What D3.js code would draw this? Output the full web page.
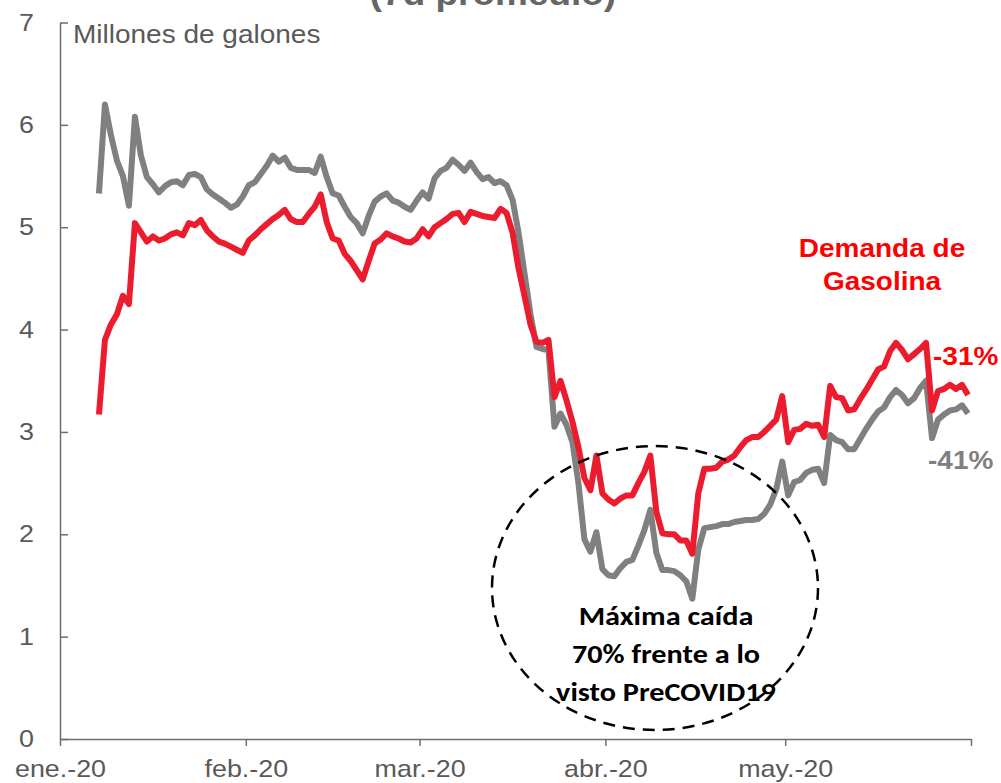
<!DOCTYPE html>
<html>
<head>
<meta charset="utf-8">
<title></title>
<script src="https://d3js.org/d3.v7.min.js"></script>
<style>
  body { margin: 0; background: #fff; }
  .axis text { font-family: "Liberation Sans", Arial, sans-serif; font-size: 24px; fill: #595959; }
  .axis path, .axis line { stroke: #6e6e6e; stroke-width: 1.5; }
</style>
</head>
<body>
<svg width="1001" height="783"></svg>
<script>
// daily values, 7 Jan 2020 - 31 May 2020 (millones de galones, 7d promedio)
var startDate = new Date(2020, 0, 7);
var gasolina = [
  3.17, 3.90, 4.05, 4.15, 4.33, 4.25, 5.04, 4.95, 4.86, 4.91,
  4.87, 4.89, 4.93, 4.95, 4.92, 5.04, 5.02, 5.07, 4.97, 4.91,
  4.86, 4.84, 4.81, 4.78, 4.75, 4.87, 4.92, 4.98, 5.03, 5.08,
  5.12, 5.17, 5.08, 5.05, 5.05, 5.13, 5.20, 5.32, 5.05, 4.89,
  4.87, 4.74, 4.67, 4.58, 4.49, 4.67, 4.84, 4.88, 4.94, 4.91,
  4.89, 4.86, 4.85, 4.89, 4.98, 4.91, 5.00, 5.04, 5.08, 5.13,
  5.14, 5.05, 5.15, 5.13, 5.11, 5.10, 5.09, 5.18, 5.14, 4.95,
  4.60, 4.33, 4.05, 3.88, 3.87, 3.90, 3.34, 3.50, 3.31, 3.10,
  2.85, 2.55, 2.43, 2.77, 2.40, 2.34, 2.30, 2.35, 2.38, 2.38,
  2.50, 2.61, 2.77, 2.22, 2.01, 2.00, 2.00, 1.94, 1.94, 1.81,
  2.40, 2.64, 2.64, 2.65, 2.71, 2.73, 2.77, 2.85, 2.92, 2.95,
  2.95, 3.00, 3.06, 3.12, 3.35, 2.90, 3.02, 3.03, 3.08, 3.06,
  3.07, 2.95, 3.45, 3.34, 3.33, 3.21, 3.22, 3.32, 3.41, 3.51,
  3.61, 3.64, 3.79, 3.87, 3.80, 3.71, 3.76, 3.81, 3.87, 3.21,
  3.40, 3.42, 3.46, 3.42, 3.46, 3.36
];
var referencia = [
  5.33, 6.20, 5.90, 5.65, 5.50, 5.21, 6.08, 5.70, 5.49, 5.42,
  5.34, 5.40, 5.44, 5.45, 5.41, 5.51, 5.52, 5.49, 5.37, 5.32,
  5.28, 5.24, 5.19, 5.22, 5.30, 5.41, 5.44, 5.52, 5.60, 5.70,
  5.64, 5.68, 5.58, 5.56, 5.56, 5.56, 5.53, 5.69, 5.49, 5.33,
  5.31, 5.20, 5.10, 5.04, 4.94, 5.11, 5.25, 5.30, 5.33, 5.26,
  5.24, 5.20, 5.17, 5.26, 5.34, 5.28, 5.48, 5.55, 5.58, 5.66,
  5.61, 5.55, 5.63, 5.54, 5.47, 5.49, 5.43, 5.45, 5.41, 5.27,
  4.95, 4.55, 4.15, 3.83, 3.81, 3.80, 3.05, 3.18, 3.07, 2.90,
  2.50, 1.95, 1.83, 2.02, 1.66, 1.60, 1.59, 1.67, 1.73, 1.75,
  1.89, 2.04, 2.24, 1.82, 1.65, 1.65, 1.64, 1.60, 1.54, 1.37,
  1.85, 2.06, 2.07, 2.08, 2.10, 2.10, 2.12, 2.13, 2.14, 2.14,
  2.15, 2.20, 2.29, 2.44, 2.71, 2.38, 2.51, 2.53, 2.60, 2.63,
  2.64, 2.50, 2.97, 2.92, 2.90, 2.83, 2.83, 2.93, 3.03, 3.12,
  3.20, 3.24, 3.34, 3.41, 3.36, 3.28, 3.33, 3.43, 3.50, 2.94,
  3.12, 3.17, 3.21, 3.22, 3.26, 3.18
];
var monthTicks = [new Date(2020,0,1), new Date(2020,1,1), new Date(2020,2,1),
                  new Date(2020,3,1), new Date(2020,4,1), new Date(2020,5,1)];
var monthLabels = ["ene.-20", "feb.-20", "mar.-20", "abr.-20", "may.-20", ""];
var yTicks = [0, 1, 2, 3, 4, 5, 6, 7];
var notaCaida = ["Máxima caída", "70% frente a lo", "visto PreCOVID19"];

// the original picture is a bit wider than tall, text looks stretched
var stretch = 1.12;

var svg = d3.select("svg");

var x = d3.scaleTime()
  .domain([monthTicks[0], monthTicks[5]])
  .range([60, 971]);
var y = d3.scaleLinear()
  .domain([0, 7])
  .range([739, 22.5]);

function dayOf(i) {
  // points sit in the middle of their day
  return d3.timeHour.offset(d3.timeDay.offset(startDate, i), 12);
}

function label(parent, px, py, txt) {
  return parent.append("text")
    .attr("transform", "translate(" + px + "," + py + ") scale(" + stretch + ",1)")
    .text(txt);
}

// title, cut at top of picture
label(svg, 493, 5, "(7d promedio)")
  .attr("text-anchor", "middle")
  .attr("font-family", "Liberation Sans, Arial, sans-serif")
  .attr("font-weight", "bold")
  .attr("font-size", 33)
  .attr("fill", "#666");

var xAxis = svg.append("g")
  .attr("class", "axis")
  .attr("transform", "translate(0,739)")
  .call(d3.axisBottom(x)
    .tickValues(monthTicks)
    .tickFormat(function(d, i) { return monthLabels[i]; })
    .tickSizeInner(7).tickSizeOuter(0).tickPadding(14));
xAxis.selectAll(".tick text").attr("transform", "scale(" + stretch + ",1)");

var yAxis = svg.append("g")
  .attr("class", "axis")
  .attr("transform", "translate(60,0)")
  .call(d3.axisLeft(y)
    .tickValues(yTicks)
    .tickFormat(d3.format("d"))
    .tickSizeInner(-8).tickSizeOuter(0).tickPadding(26));
yAxis.selectAll(".tick text")
  .attr("x", null)
  .attr("transform", "translate(-26,0) scale(" + stretch + ",1)");

label(svg, 73, 43, "Millones de galones")
  .attr("font-family", "Liberation Sans, Arial, sans-serif")
  .attr("font-size", 25)
  .attr("fill", "#595959");

var line = d3.line()
  .x(function(d, i) { return x(dayOf(i)); })
  .y(function(d) { return y(d); });

svg.append("path")
  .datum(referencia)
  .attr("d", line)
  .attr("fill", "none")
  .attr("stroke", "#808080")
  .attr("stroke-width", 6)
  .attr("stroke-linejoin", "round");

svg.append("path")
  .datum(gasolina)
  .attr("d", line)
  .attr("fill", "none")
  .attr("stroke", "#ec1c2f")
  .attr("stroke-width", 6)
  .attr("stroke-linejoin", "round");

// dashed circle around the drop
svg.append("ellipse")
  .attr("cx", 655).attr("cy", 588)
  .attr("rx", 163).attr("ry", 142)
  .attr("fill", "none")
  .attr("stroke", "#000")
  .attr("stroke-width", 2.5)
  .attr("stroke-dasharray", "12,8");

var nota = svg.append("g")
  .attr("font-family", "Carlito, Lato, sans-serif")
  .attr("font-weight", "bold")
  .attr("font-size", 27)
  .attr("text-anchor", "middle");
notaCaida.forEach(function(t, i) {
  label(nota, 666, 625 + i * 38, t);
});

var labels = svg.append("g")
  .attr("font-family", "Liberation Sans, Arial, sans-serif")
  .attr("font-weight", "bold")
  .attr("font-size", 25);

label(labels, 882, 257, "Demanda de").attr("text-anchor", "middle").attr("fill", "#ff0000");
label(labels, 882, 290, "Gasolina").attr("text-anchor", "middle").attr("fill", "#ff0000");

var last = gasolina.length - 1;
label(labels, 933, y(gasolina[last]) - 30, "-31%").attr("fill", "#ff0000");
label(labels, 928, y(referencia[last]) + 55, "-41%").attr("fill", "#808080");
</script>
</body>
</html>
